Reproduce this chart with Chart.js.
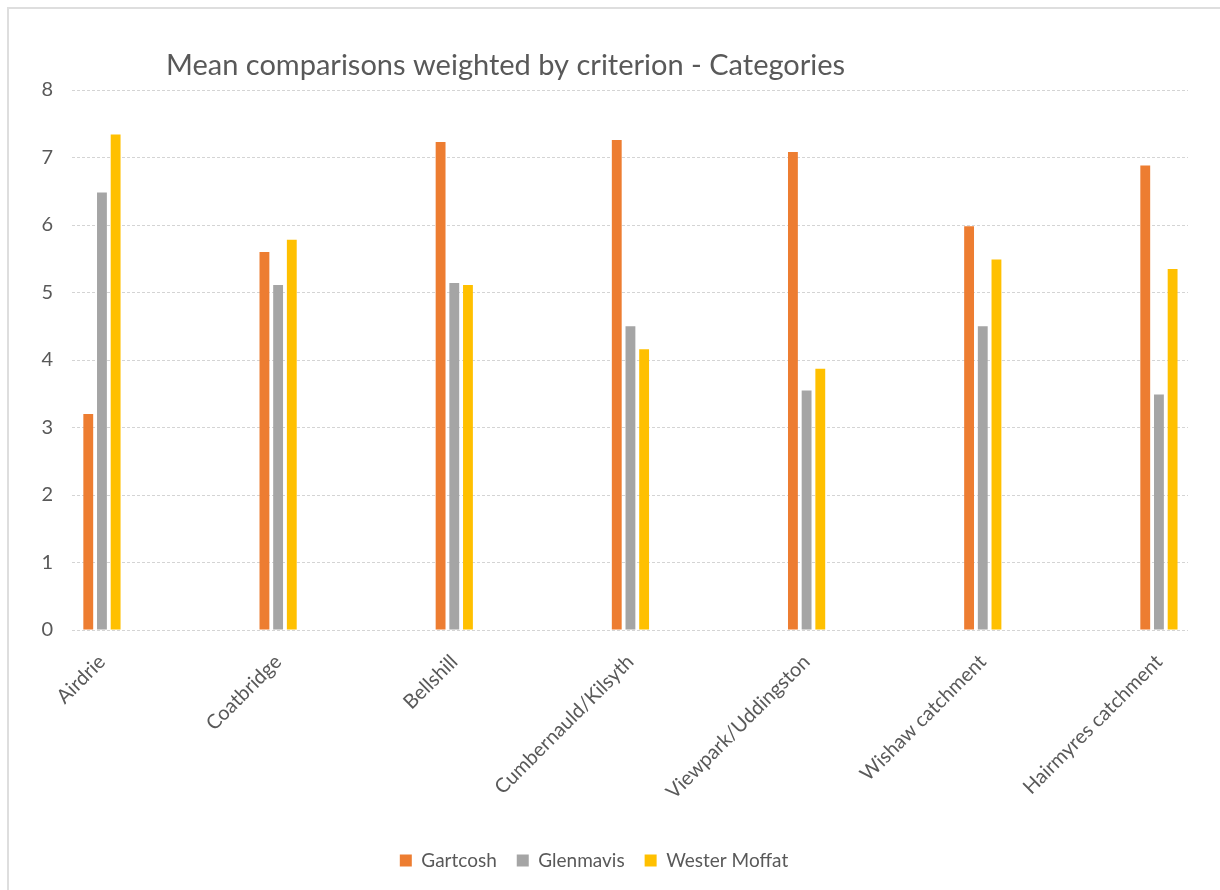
<!DOCTYPE html>
<html>
<head>
<meta charset="utf-8">
<script src="https://cdn.jsdelivr.net/npm/chart.js@4.4.1/dist/chart.umd.min.js"></script>
<style>
  html, body { margin: 0; padding: 0; background: #fff; }
  #wrap { position: relative; width: 1220px; height: 890px; overflow: hidden; }
  #frame { position: absolute; left: 7px; top: 7px; width: 1300px; height: 1000px;
           border-left: 2px solid #dedede; border-top: 2px solid #dedede; }
  #chart { position: absolute; left: 0; top: 0; }
</style>
</head>
<body>
<div id="wrap">
  <div id="frame"></div>
  <canvas id="chart" width="1220" height="890"></canvas>
</div>
<script>
const chartTitle = 'Mean comparisons weighted by criterion - Categories';
const categories = ['Airdrie', 'Coatbridge', 'Bellshill', 'Cumbernauld/Kilsyth',
  'Viewpark/Uddingston', 'Wishaw catchment', 'Hairmyres catchment'];
const gartcosh = [3.2, 5.6, 7.23, 7.26, 7.08, 5.98, 6.88];
const glenmavis = [6.48, 5.11, 5.14, 4.5, 3.55, 4.5, 3.49];
const westerMoffat = [7.34, 5.78, 5.11, 4.16, 3.87, 5.49, 5.35];
const yTicks = [0, 1, 2, 3, 4, 5, 6, 7, 8];

const textColor = '#595959';
const fontFamily = 'Lato, "Open Sans", sans-serif';

// bars sit on a linear x axis so the clusters keep the reference spacing
const toPoints = arr => arr.map((v, i) => ({ x: i, y: v }));

const titlePlugin = {
  id: 'plainTitle',
  afterDraw(chart) {
    const c = chart.ctx;
    c.save();
    c.font = '29px ' + fontFamily;
    c.fillStyle = textColor;
    c.textBaseline = 'alphabetic';
    c.fillText(chartTitle, 166, 75);
    c.restore();
  }
};

const ctx = document.getElementById('chart').getContext('2d');
const chart = new Chart(ctx, {
  type: 'bar',
  data: {
    datasets: [
      { label: 'Gartcosh', data: toPoints(gartcosh), backgroundColor: '#ED7D31' },
      { label: 'Glenmavis', data: toPoints(glenmavis), backgroundColor: '#A5A5A5' },
      { label: 'Wester Moffat', data: toPoints(westerMoffat), backgroundColor: '#FFC000' }
    ]
  },
  options: {
    responsive: false,
    animation: false,
    categoryPercentage: 0.233,
    barPercentage: 0.72,
    layout: { padding: { top: 90, left: 0, right: 32, bottom: 10 } },
    plugins: {
      legend: {
        position: 'bottom',
        labels: {
          boxWidth: 12, boxHeight: 12, padding: 20,
          color: textColor, font: { family: fontFamily, size: 19 }
        }
      },
      tooltip: { enabled: false }
    },
    scales: {
      x: {
        type: 'linear',
        offset: false,
        min: -0.17,
        max: 6.165,
        grid: { display: false, drawTicks: false, offset: false },
        border: { display: false },
        afterBuildTicks: s => { s.ticks = categories.map((_, i) => ({ value: i })); },
        afterFit: s => { s.height = 201; },
        ticks: {
          autoSkip: false,
          minRotation: 45, maxRotation: 45,
          padding: 20,
          color: textColor,
          font: { family: fontFamily, size: 20 },
          callback: v => categories[v]
        }
      },
      y: {
        min: 0, max: 8,
        afterBuildTicks: s => { s.ticks = yTicks.map(v => ({ value: v })); },
        afterFit: s => { s.width = 72; },
        grid: { color: '#d4d4d4', lineWidth: 1, drawTicks: false },
        border: { display: false, dash: [3, 2] },
        ticks: {
          padding: 19,
          color: textColor,
          font: { family: fontFamily, size: 20 }
        }
      }
    }
  },
  plugins: [titlePlugin]
});
</script>
</body>
</html>
